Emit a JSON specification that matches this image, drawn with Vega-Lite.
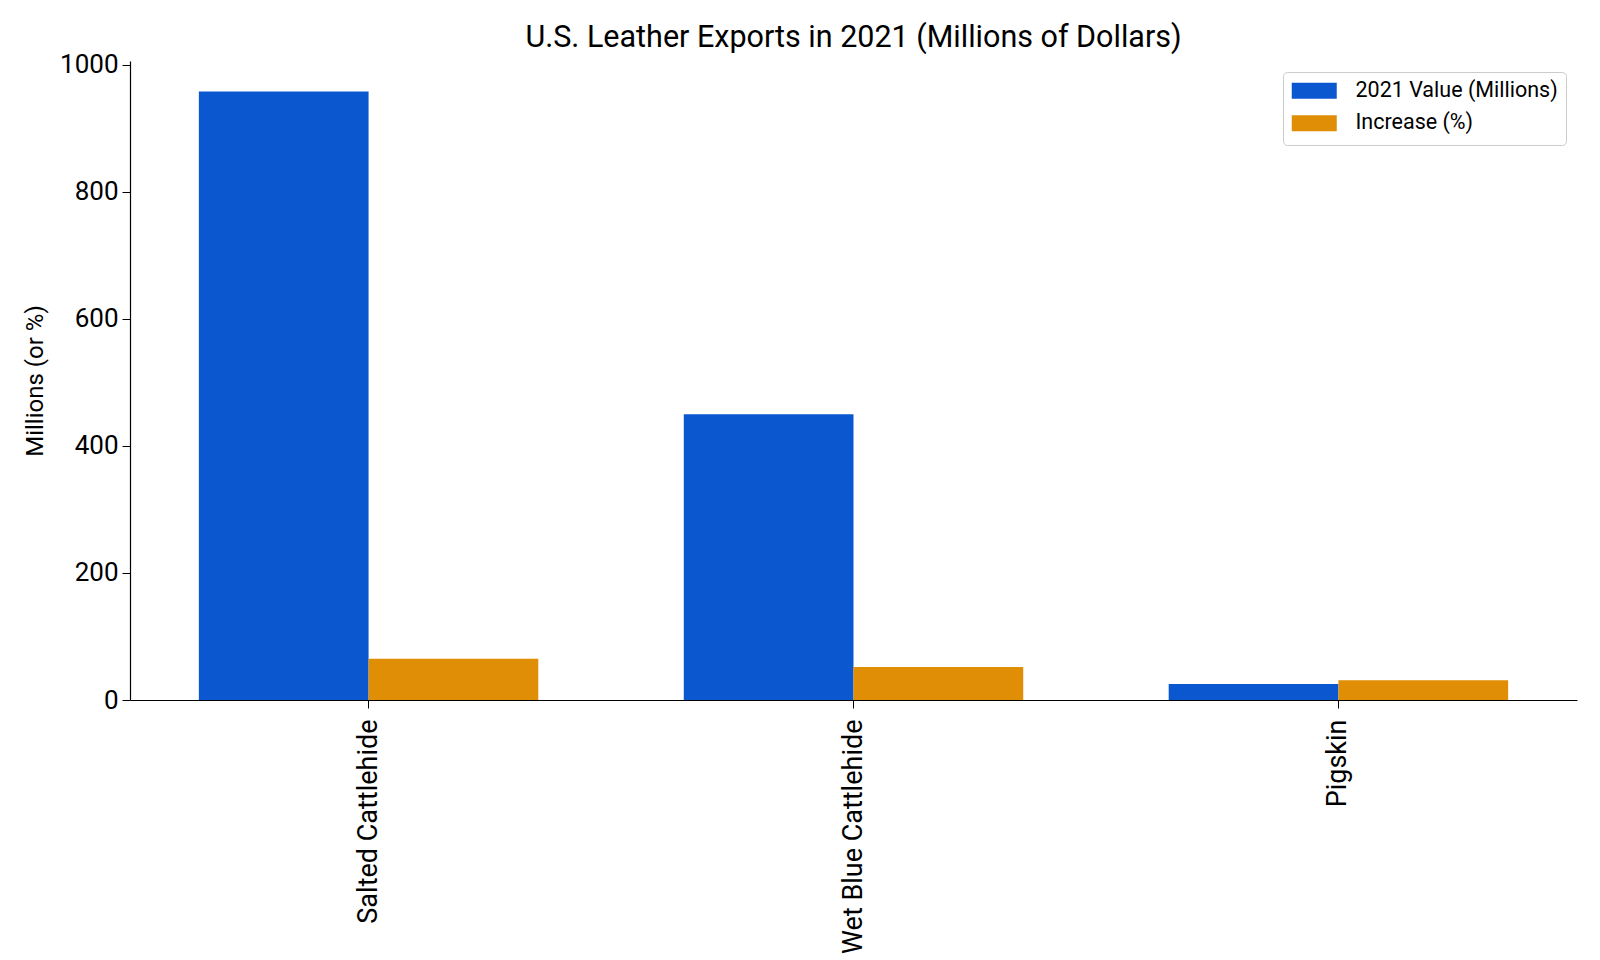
{
  "$schema": "https://vega.github.io/schema/vega-lite/v6.json",
  "autosize": "none",
  "width": 1447,
  "height": 639,
  "padding": {"left": 130, "top": 61, "right": 23, "bottom": 260},
  "background": "white",
  "config": {
    "font": "Roboto",
    "view": {"stroke": null}
  },
  "title": {
    "text": "U.S. Leather Exports in 2021 (Millions of Dollars)",
    "fontSize": 30.5,
    "fontWeight": "normal",
    "color": "#000000",
    "anchor": "middle",
    "offset": -2
  },
  "data": {
    "values": [
      {"category": "Salted Cattlehide", "series": "2021 Value (Millions)", "value": 958},
      {"category": "Salted Cattlehide", "series": "Increase (%)", "value": 65},
      {"category": "Wet Blue Cattlehide", "series": "2021 Value (Millions)", "value": 450},
      {"category": "Wet Blue Cattlehide", "series": "Increase (%)", "value": 52},
      {"category": "Pigskin", "series": "2021 Value (Millions)", "value": 25},
      {"category": "Pigskin", "series": "Increase (%)", "value": 31}
    ]
  },
  "mark": {"type": "bar"},
  "encoding": {
    "x": {
      "field": "category",
      "type": "nominal",
      "sort": ["Salted Cattlehide", "Wet Blue Cattlehide", "Pigskin"],
      "scale": {"paddingInner": 0.3, "paddingOuter": 0.142},
      "axis": {
        "title": null,
        "labelAngle": -90,
        "labelFontSize": 27,
        "labelLimit": 0,
        "labelColor": "#000000",
        "labelPadding": 11,
        "tickColor": "#000000",
        "tickSize": 8,
        "domainColor": "#000000",
        "domainWidth": 1.2,
        "grid": false
      }
    },
    "xOffset": {
      "field": "series",
      "type": "nominal",
      "sort": ["2021 Value (Millions)", "Increase (%)"],
      "scale": {"paddingInner": 0, "paddingOuter": 0}
    },
    "y": {
      "field": "value",
      "type": "quantitative",
      "scale": {"domain": [0, 1006], "nice": false},
      "axis": {
        "title": "Millions (or %)",
        "titleFontSize": 24,
        "titleFontWeight": "normal",
        "titleColor": "#000000",
        "titlePadding": 12,
        "values": [0, 200, 400, 600, 800, 1000],
        "format": "d",
        "labelFontSize": 26,
        "labelColor": "#000000",
        "labelPadding": 4,
        "tickColor": "#000000",
        "tickSize": 8,
        "domainColor": "#000000",
        "domainWidth": 1.2,
        "grid": false
      }
    },
    "color": {
      "field": "series",
      "type": "nominal",
      "scale": {
        "domain": ["2021 Value (Millions)", "Increase (%)"],
        "range": ["#0b57d0", "#df8e05"]
      },
      "legend": {
        "title": null,
        "orient": "top-right",
        "offset": 11,
        "fillColor": "white",
        "strokeColor": "#cccccc",
        "cornerRadius": 4,
        "padding": 8,
        "labelFontSize": 21.5,
        "labelLimit": 0,
        "labelColor": "#000000",
        "labelOffset": 43,
        "rowPadding": 6.5,
        "symbolType": "M-1,-0.79L3.5,-0.79L3.5,0.79L-1,0.79Z M0,1.35",
        "symbolSize": 400,
        "symbolStrokeWidth": 0
      }
    }
  }
}
